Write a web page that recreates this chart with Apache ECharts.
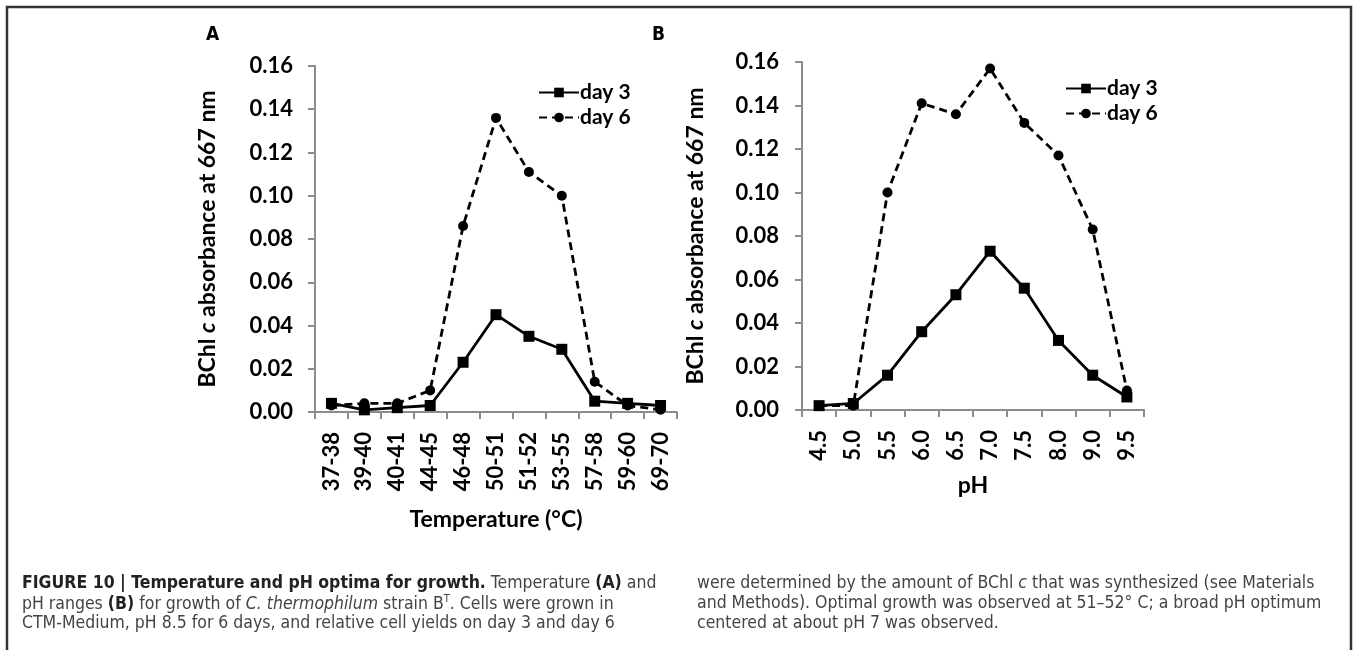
<!DOCTYPE html>
<html>
<head>
<meta charset="utf-8">
<script src="https://cdn.jsdelivr.net/npm/echarts@6/dist/echarts.min.js"></script>
<style>
html,body{margin:0;padding:0;background:#fff;}
#chart{width:1358px;height:650px;}
</style>
</head>
<body>
<div id="chart"></div>
<script>
// ---- data ----
const tempCategories = ['37-38','39-40','40-41','44-45','46-48','50-51','51-52','53-55','57-58','59-60','69-70'];
const tempDay3 = [0.004, 0.001, 0.002, 0.003, 0.023, 0.045, 0.035, 0.029, 0.005, 0.004, 0.003];
const tempDay6 = [0.003, 0.004, 0.004, 0.010, 0.086, 0.136, 0.111, 0.100, 0.014, 0.003, 0.001];

const phCategories = ['4.5','5.0','5.5','6.0','6.5','7.0','7.5','8.0','9.0','9.5'];
const phDay3 = [0.002, 0.003, 0.016, 0.036, 0.053, 0.073, 0.056, 0.032, 0.016, 0.006];
const phDay6 = [0.002, 0.002, 0.100, 0.141, 0.136, 0.157, 0.132, 0.117, 0.083, 0.009];

const yMin = 0, yMax = 0.16, yStep = 0.02;
const seriesNames = ['day 3', 'day 6'];

// ---- styles ----
const FONT = 'Lato, "Open Sans", sans-serif';
const CAP = '"Liberation Sans Narrow", "DejaVu Sans Condensed", "Liberation Sans", sans-serif';
const CAPSIZE = '17.5px ';
const axisGrey = '#8c8c8c';

function yAxisCfg(gridIndex, gap, margin) {
  return {
    type: 'value', gridIndex: gridIndex, min: yMin, max: yMax, interval: yStep,
    axisLine: {show: true, lineStyle: {color: axisGrey, width: 2}},
    axisTick: {show: true, length: 7, lineStyle: {color: axisGrey, width: 2}},
    splitLine: {show: false},
    axisLabel: {color: '#000', fontFamily: FONT, fontWeight: 'bold', fontSize: 22, margin: margin,
      formatter: v => v.toFixed(2)},
    name: '{b|BChl }{i|c}{b| absorbance at 667 nm}',
    nameLocation: 'middle', nameRotate: 90, nameGap: gap,
    nameTextStyle: {
      rich: {
        b: {fontFamily: FONT, fontWeight: 'bold', fontSize: 23, color: '#000'},
        i: {fontFamily: FONT, fontWeight: 'bold', fontStyle: 'italic', fontSize: 23, color: '#000'}
      }
    }
  };
}
function xAxisCfg(gridIndex, cats, name, gap) {
  return {
    type: 'category', gridIndex: gridIndex, data: cats, boundaryGap: true,
    axisLine: {show: true, lineStyle: {color: axisGrey, width: 2}},
    axisTick: {show: true, length: 7, lineStyle: {color: axisGrey, width: 2}},
    axisLabel: {color: '#000', fontFamily: FONT, fontWeight: 'bold', fontSize: 22, rotate: 90, margin: 20, interval: 0},
    name: name, nameLocation: 'middle', nameGap: gap,
    nameTextStyle: {color: '#000', fontFamily: FONT, fontWeight: 'bold', fontSize: 23}
  };
}
function lineSeries(name, data, idx, dashed) {
  return {
    name: name, type: 'line', xAxisIndex: idx, yAxisIndex: idx, data: data,
    symbol: dashed ? 'circle' : 'rect', symbolSize: dashed ? 10 : 11,
    lineStyle: {color: '#000', width: 2.8, type: dashed ? [8, 5] : 'solid'},
    itemStyle: {color: '#000'},
    animation: false, z: dashed ? 3 : 4
  };
}
function legendCfg(left, top) {
  return {
    data: seriesNames, left: left, top: top, orient: 'vertical', itemGap: 4,
    itemWidth: 40, itemHeight: 12, selectedMode: false,
    textStyle: {color: '#000', fontFamily: FONT, fontWeight: 'bold', fontSize: 21, padding: [0, 0, 0, -4]}
  };
}

const chart = echarts.init(document.getElementById('chart'), null, {renderer: 'canvas'});
chart.setOption({
  backgroundColor: '#fff',
  animation: false,
  grid: [
    {left: 315, top: 66, width: 362, height: 346},
    {left: 802, top: 62, width: 342, height: 348}
  ],
  xAxis: [
    xAxisCfg(0, tempCategories, 'Temperature (°C)', 96),
    xAxisCfg(1, phCategories, 'pH', 64)
  ],
  yAxis: [yAxisCfg(0, 96, 22), yAxisCfg(1, 95, 23)],
  legend: [legendCfg(533, 77), legendCfg(1060, 73)],
  series: [
    lineSeries(seriesNames[0], tempDay3, 0, false),
    lineSeries(seriesNames[1], tempDay6, 0, true),
    lineSeries(seriesNames[0], phDay3, 1, false),
    lineSeries(seriesNames[1], phDay6, 1, true)
  ],
  graphic: [
    // frame
    {type: 'polyline', shape: {points: [[7, 652], [7, 7], [1351, 7], [1351, 652]]},
     style: {stroke: '#333', lineWidth: 2.5, fill: null}, silent: true},
    {type: 'text', left: 206, top: 26, style: {text: 'A', font: 'bold 19px ' + CAP, fill: '#000'}},
    {type: 'text', left: 652, top: 26, style: {text: 'B', font: 'bold 19px ' + CAP, fill: '#000'}},
    // caption left column
    {type: 'text', left: 22, top: 574, style: {
      text: '{b|FIGURE 10 | Temperature and pH optima for growth.}{r| Temperature }{b|(A)}{r| and}',
      rich: {
        b: {font: 'bold ' + CAPSIZE + CAP, fill: '#222'},
        r: {font: CAPSIZE + CAP, fill: '#444'}
      }}},
    {type: 'text', left: 22, top: 594, style: {
      text: '{r|pH ranges }{b|(B)}{r| for growth of }{i|C. thermophilum}{r| strain B}{s|T}{r|. Cells were grown in}',
      rich: {
        b: {font: 'bold ' + CAPSIZE + CAP, fill: '#222'},
        r: {font: CAPSIZE + CAP, fill: '#444'},
        i: {font: 'italic ' + CAPSIZE + CAP, fill: '#444'},
        s: {font: '11px ' + CAP, fill: '#444', padding: [0, 0, 9, 0]}
      }}},
    {type: 'text', left: 22, top: 614, style: {
      text: 'CTM-Medium, pH 8.5 for 6 days, and relative cell yields on day 3 and day 6',
      font: CAPSIZE + CAP, fill: '#444'}},
    // caption right column
    {type: 'text', left: 697, top: 574, style: {
      text: '{r|were determined by the amount of BChl }{i|c}{r| that was synthesized (see Materials}',
      rich: {
        r: {font: CAPSIZE + CAP, fill: '#444'},
        i: {font: 'italic ' + CAPSIZE + CAP, fill: '#444'}
      }}},
    {type: 'text', left: 697, top: 594, style: {
      text: 'and Methods). Optimal growth was observed at 51–52° C; a broad pH optimum',
      font: CAPSIZE + CAP, fill: '#444'}},
    {type: 'text', left: 697, top: 614, style: {
      text: 'centered at about pH 7 was observed.',
      font: CAPSIZE + CAP, fill: '#444'}}
  ]
});
</script>
</body>
</html>
